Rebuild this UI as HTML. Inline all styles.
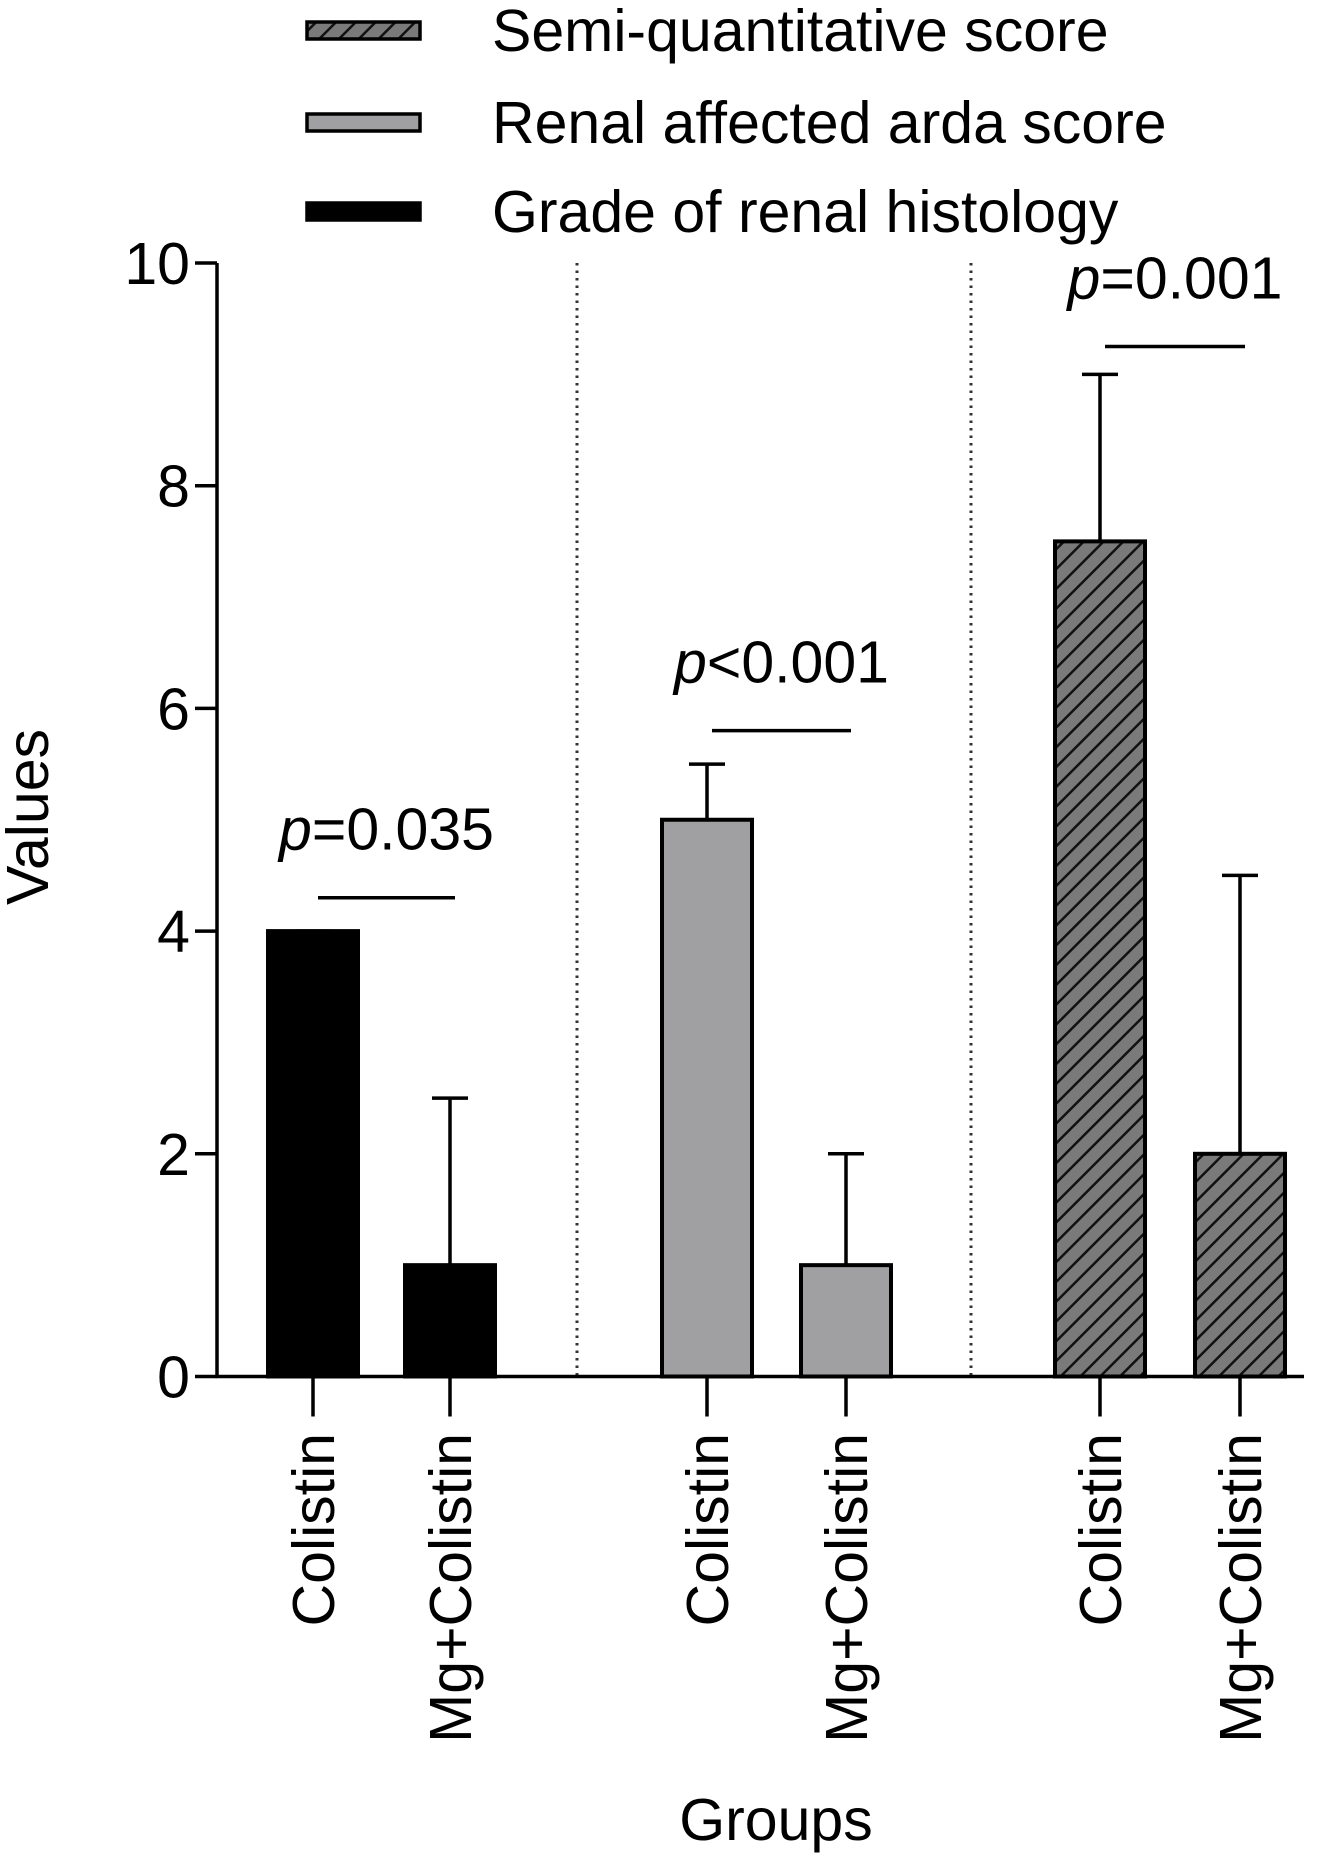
<!DOCTYPE html>
<html><head><meta charset="utf-8"><style>
html,body{margin:0;padding:0;background:#fff;}
svg{display:block;font-family:"Liberation Sans",Arial,sans-serif;}
</style></head><body>
<svg id="chart" width="1341" height="1857" viewBox="0 0 1341 1857">
<defs>
<pattern id="hatch" patternUnits="userSpaceOnUse" width="14" height="14" patternTransform="rotate(45)">
<rect width="14" height="14" fill="#7a7a7a"/>
<line x1="0" y1="0" x2="0" y2="14" stroke="#111" stroke-width="5"/>
</pattern>
</defs>
<g id="legend"></g>
<g id="plot"></g>
</svg>
<script>
const categories = ["Colistin","Mg+Colistin","Colistin","Mg+Colistin","Colistin","Mg+Colistin"];
const means = [4, 1, 5, 1, 7.5, 2];
const errTops = [4, 2.5, 5.5, 2, 9, 4.5];
const groupIdx = [0,0,1,1,2,2];
const yTicks = [0,2,4,6,8,10];
const pLabels = ["=0.035","<0.001","=0.001"];
const pLineY = [4.3, 5.8, 9.25];
const legendLabels = ["Semi-quantitative score","Renal affected arda score","Grade of renal histology"];
const legendFills = ["url(#hatch)","#a0a0a2","#000"];
const groupFills = ["#000","#a0a0a2","url(#hatch)"];

const NS="http://www.w3.org/2000/svg";
const plot=document.getElementById('plot');
function mk(tag,attrs,parent){const e=document.createElementNS(NS,tag);for(const k in attrs)e.setAttribute(k,attrs[k]);(parent||plot).appendChild(e);return e;}
const x0=217, yBase=1376.5, unit=111.35, FS=59, SW=3.5;
function y(v){return yBase-v*unit;}
const barLeft=[268,405,662,801,1055,1195], barW=90;
function xCenter(i){return barLeft[i]+barW/2;}

const lg=document.getElementById('legend');
const ly=[30,122,211];
legendLabels.forEach((t,i)=>{
  const r=mk('rect',{x:307,y:ly[i]-8,width:113,height:17,fill:legendFills[i],stroke:"#000","stroke-width":3.5},lg);
  
  
  const tx=mk('text',{x:492,y:ly[i]+21,"font-size":FS,fill:"#000"},lg);
  tx.textContent=t;
  
  
});

[577,971].forEach(xx=>{
  const l=mk('line',{x1:xx,y1:y(10),x2:xx,y2:yBase,stroke:"#333","stroke-width":3,"stroke-dasharray":"2.5,5"});
  
  
});

means.forEach((m,i)=>{
  const cx=xCenter(i);
  const e=mk('line',{x1:cx,y1:y(errTops[i]),x2:cx,y2:y(m),stroke:"#000","stroke-width":SW});
  
  
  const c=mk('line',{x1:cx-18,y1:y(errTops[i]),x2:cx+18,y2:y(errTops[i]),stroke:"#000","stroke-width":SW});
  
  
  const b=mk('rect',{x:barLeft[i],y:y(m),width:barW,height:yBase-y(m),fill:groupFills[groupIdx[i]],stroke:"#000","stroke-width":4});
  
  
  const t=mk('line',{x1:cx,y1:yBase,x2:cx,y2:yBase+40,stroke:"#000","stroke-width":SW});
  
  
  const lab=mk('text',{x:0,y:0,"font-size":FS,"text-anchor":"end",transform:`translate(${cx+21},1433) rotate(-90)`});
  lab.textContent=categories[i];
  
  
});

pLabels.forEach((p,g)=>{
  const a=xCenter(g*2)+5,b=xCenter(g*2+1)+5;
  const l=mk('line',{x1:a,y1:y(pLineY[g]),x2:b,y2:y(pLineY[g]),stroke:"#000","stroke-width":SW});
  
  
  const t=mk('text',{x:(a+b)/2,y:y(pLineY[g])-48,"font-size":FS,"text-anchor":"middle"});
  t.innerHTML='<tspan font-style="italic">p</tspan>'+p.replace('<','&lt;');
  
  
});

const ya=mk('line',{x1:x0,y1:y(10),x2:x0,y2:yBase+1.5,stroke:"#000","stroke-width":SW});


const xa=mk('line',{x1:x0-1.5,y1:yBase,x2:1304,y2:yBase,stroke:"#000","stroke-width":SW});


yTicks.forEach(v=>{
  const t=mk('line',{x1:x0-22,y1:y(v),x2:x0,y2:y(v),stroke:"#000","stroke-width":SW});
  
  
  const l=mk('text',{x:190,y:y(v)+21,"font-size":FS,"text-anchor":"end"});
  l.textContent=v;
  
  
});
const yt=mk('text',{x:0,y:0,"font-size":FS,"text-anchor":"middle",transform:"translate(48,817) rotate(-90)"});
yt.textContent="Values";


const xt=mk('text',{x:776,y:1840,"font-size":FS,"text-anchor":"middle"});
xt.textContent="Groups";


</script>
</body></html>
